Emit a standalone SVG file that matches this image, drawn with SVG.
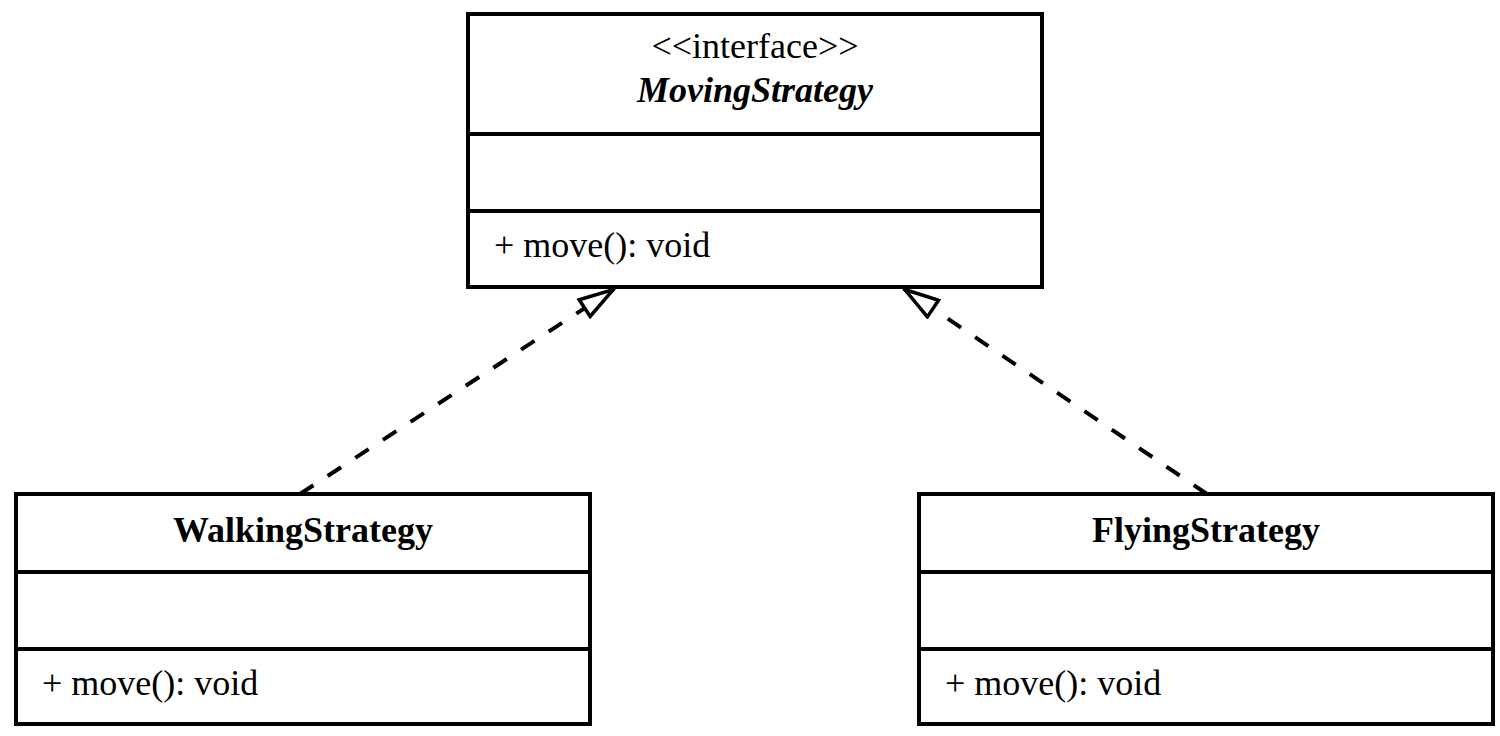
<svg xmlns="http://www.w3.org/2000/svg" width="1500" height="736" viewBox="0 0 1500 736">
<style>
.box{fill:#fff;stroke:#000;stroke-width:4}
.div{stroke:#000;stroke-width:4}
.t{font-family:"Liberation Serif","Times New Roman",serif;font-size:36px;fill:#000}
.c{text-anchor:middle}
.b{font-weight:bold}
.i{font-style:italic}
.edge{stroke:#000;stroke-width:4;fill:none;stroke-dasharray:16 17}
</style>
<defs>
<marker id="tri" viewBox="0 0 40 24" refX="38" refY="12" markerWidth="40" markerHeight="24" markerUnits="userSpaceOnUse" orient="auto">
<path d="M3,2 L37,12 L3,22 Z" fill="#fff" stroke="#000" stroke-width="3.5" stroke-dasharray="none"/>
</marker>
</defs>
<rect width="1500" height="736" fill="#fff"/>
<g id="connectors">
<line class="edge" x1="300" y1="494" x2="614" y2="289" marker-end="url(#tri)"/>
<line class="edge" x1="1207" y1="494" x2="904" y2="289" marker-end="url(#tri)"/>
</g>
<g id="MovingStrategy">
<rect class="box" x="468" y="14" width="574" height="273"/>
<line class="div" x1="468" y1="134" x2="1042" y2="134"/>
<line class="div" x1="468" y1="211" x2="1042" y2="211"/>
<text class="t c" x="755" y="58">&lt;&lt;interface&gt;&gt;</text>
<text class="t c b i" x="755" y="102">MovingStrategy</text>
<text class="t" x="494" y="257">+ move(): void</text>
</g>
<g id="WalkingStrategy">
<rect class="box" x="16" y="494" width="574" height="230"/>
<line class="div" x1="16" y1="572" x2="590" y2="572"/>
<line class="div" x1="16" y1="649" x2="590" y2="649"/>
<text class="t c b" x="303" y="542">WalkingStrategy</text>
<text class="t" x="42" y="695">+ move(): void</text>
</g>
<g id="FlyingStrategy">
<rect class="box" x="919" y="494" width="574" height="230"/>
<line class="div" x1="919" y1="572" x2="1493" y2="572"/>
<line class="div" x1="919" y1="649" x2="1493" y2="649"/>
<text class="t c b" x="1206" y="542">FlyingStrategy</text>
<text class="t" x="945" y="695">+ move(): void</text>
</g>
</svg>
